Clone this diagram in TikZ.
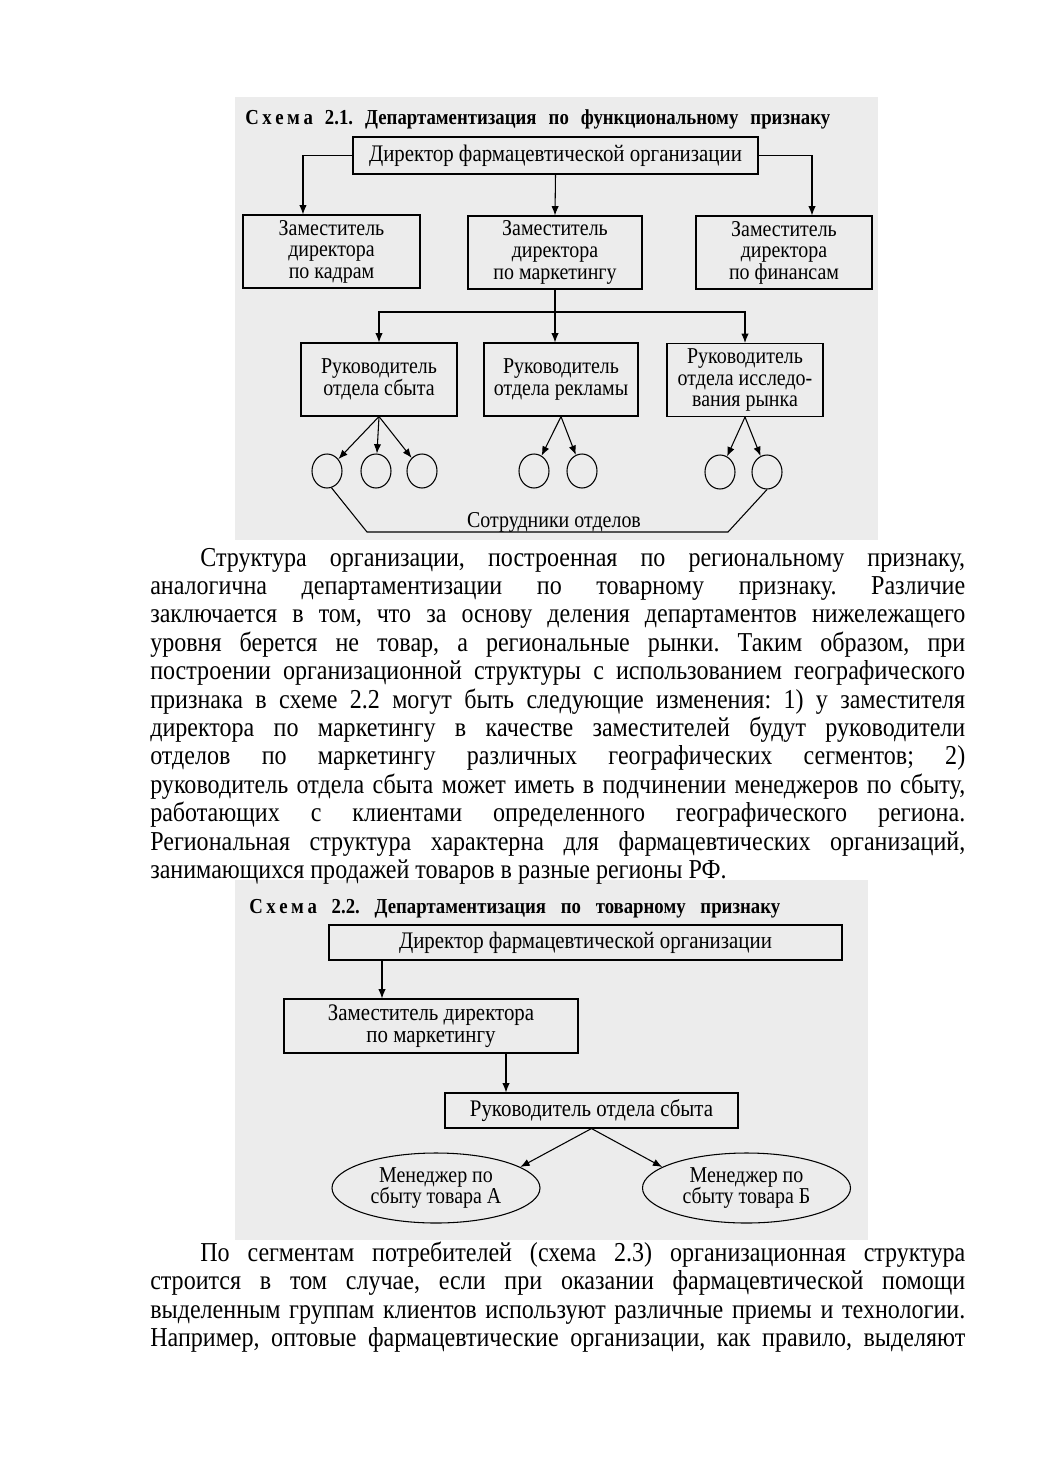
\documentclass[tikz,border=0pt]{standalone}
\usepackage{fontspec}
\setmainfont{Liberation Serif}
\newfontfamily\narrowserif[FakeStretch=0.88]{Liberation Serif}
\usetikzlibrary{shapes.geometric, arrows.meta, positioning, calc}

\definecolor{scangray}{RGB}{236,236,236}

\newcommand{\jline}[2]{\makebox[#1][s]{#2}}
\frenchspacing

\tikzset{
    box/.style={draw, line width=0.8pt, align=center, inner sep=0pt,
                font=\narrowserif\fontsize{17}{16.2}\selectfont},
    widebox/.style={box, font=\narrowserif\fontsize{17.8}{16.2}\selectfont},
    staff/.style={draw, ellipse, line width=0.8pt, inner sep=0pt,
                  minimum width=22.5pt, minimum height=25.5pt},
    mgr/.style={draw, ellipse, line width=0.8pt, align=center, inner sep=0pt,
                minimum width=156pt, minimum height=52.5pt,
                font=\narrowserif\fontsize{17}{16.2}\selectfont},
    arr/.style={-{Latex[length=7pt,width=5.5pt]}, line width=0.8pt},
    link/.style={line width=0.8pt},
    body/.style={anchor=base west, inner sep=0pt,
                 font=\narrowserif\fontsize{20.5}{21}\selectfont},
    caption/.style={anchor=base west, inner sep=0pt,
                    font=\narrowserif\bfseries\fontsize{16}{17}\selectfont}
}

\begin{document}
\begin{tikzpicture}[x=0.75pt, y=-0.75pt]
    \useasboundingbox (0,0) rectangle (1039,1471);
    \fill[white] (0,0) rectangle (1039,1471);
    % scanned areas
    \fill[scangray] (235,97) rectangle (878,540);
    \fill[scangray] (235,880) rectangle (868,1240);

    % SCHEME 2.1
    \node[caption] (cap1) at (245,124)
        {\jline{438.75pt}{С\,х\,е\,м\,а 2.1. Департаментизация по функциональному признаку}};
    \node[widebox, minimum width=303.75pt, minimum height=27.75pt] (dir1) at (555.5,155.5)
        {Директор фармацевтической организации};
    % deputies
    \node[box, minimum width=132.75pt, minimum height=54.75pt] (zamK) at (331.5,251.5)
        {Заместитель\\директора\\по кадрам};
    \node[box, minimum width=130.5pt, minimum height=54.75pt] (zamM) at (555,252.5)
        {Заместитель\\директора\\по маркетингу};
    \node[box, minimum width=132pt, minimum height=54.75pt] (zamF) at (784,252.5)
        {Заместитель\\директора\\по финансам};
    \coordinate (k1) at ([xshift=-21.4pt]zamK.north);
    \coordinate (f1) at ([xshift=21pt]zamF.north);
    \draw[arr] (dir1.west) -| (k1);
    \draw[arr] (dir1.east) -| (f1);
    \draw[arr] (dir1.south) -- (zamM.north);
    % heads of departments
    \node[box, minimum width=117pt, minimum height=54.75pt] (rukS) at (379,379.5)
        {Руководитель\\отдела сбыта};
    \node[box, minimum width=115.5pt, minimum height=54.75pt] (rukR) at (561,379.5)
        {Руководитель\\отдела рекламы};
    \node[box, minimum width=117pt, minimum height=54.75pt] (rukI) at (745,380)
        {Руководитель\\отдела исследо-\\вания рынка};
    \coordinate (bus) at (555,312);
    \draw[link] (zamM.south) -- (bus);
    \draw[arr] (bus) -| (rukS.north);
    \draw[arr] (bus) -| (rukI.north);
    \draw[arr] (bus) -- (bus |- rukR.north);
    % staff
    \node[staff] (s1) at (327,471) {};
    \node[staff] (s2) at (376,471) {};
    \node[staff] (s3) at (422,471) {};
    \node[staff] (r1) at (534,471) {};
    \node[staff] (r2) at (582,471) {};
    \node[staff] (i1) at (720,472) {};
    \node[staff] (i2) at (767,472) {};
    \foreach \c in {s1,s2,s3}
        \draw[arr] (rukS.south) -- (\c);
    \foreach \c in {r1,r2}
        \draw[arr] (rukR.south) -- (\c);
    \foreach \c in {i1,i2}
        \draw[arr] (rukI.south) -- (\c);
    \coordinate (bl) at (367,532);
    \coordinate (br) at (728,532);
    \draw[link] (s1.-75) -- (bl) -- (br) -- (i2.south);
    \node[box, draw=none, anchor=base] (staffl) at (554,527) {Сотрудники отделов};

    % TEXT
    \node[body] (p1l1) at (200,566)
        {\jline{573.75pt}{Структура организации, построенная по региональному признаку,}};
    \foreach \txt [count=\i from 2] in {
        {аналогична департаментизации по товарному признаку. Различие},
        {заключается в том, что за основу деления департаментов нижележащего},
        {уровня берется не товар, а региональные рынки. Таким образом, при},
        {построении организационной структуры с использованием географического},
        {признака в схеме 2.2 могут быть следующие изменения: 1) у заместителя},
        {директора по маркетингу в качестве заместителей будут руководители},
        {отделов по маркетингу различных географических сегментов; 2)},
        {руководитель отдела сбыта может иметь в подчинении менеджеров по сбыту,},
        {работающих с клиентами определенного географического региона.},
        {Региональная структура характерна для фармацевтических организаций,}}
        \node[body] (p1l\i) at (150,{566+28.4*(\i-1)}) {\jline{611.25pt}{\txt}};
    \node[body] (p1l12) at (150,878.4)
        {занимающихся продажей товаров в разные регионы РФ.};

    % SCHEME 2.2
    \node[caption] (cap2) at (249,913)
        {\jline{398.25pt}{С\,х\,е\,м\,а 2.2. Департаментизация по товарному признаку}};
    \node[widebox, minimum width=384.75pt, minimum height=26.25pt] (dir2) at (585.5,942.5)
        {Директор фармацевтической организации};
    \node[widebox, minimum width=220.5pt, minimum height=40.5pt] (zam2) at (431,1026)
        {Заместитель директора\\по маркетингу};
    \node[widebox, minimum width=219.75pt, minimum height=26.25pt] (ruk2) at (591.5,1110.5)
        {Руководитель отдела сбыта};
    \node[mgr] (m1) at (436,1188) {Менеджер по\\сбыту товара А};
    \node[mgr] (m2) at (746.5,1188) {Менеджер по\\сбыту товара Б};
    \coordinate (d2a) at ([xshift=-36.75pt]zam2.north);
    \coordinate (z2a) at ([xshift=56.25pt]zam2.south);
    \draw[arr] (dir2.south -| d2a) -- (d2a);
    \draw[arr] (z2a) -- (z2a |- ruk2.north);
    \draw[arr] (ruk2.south) -- (m1.14);
    \draw[arr] (ruk2.south) -- (m2.166);

    % TEXT
    \node[body] (p2l1) at (200,1261)
        {\jline{573.75pt}{По сегментам потребителей (схема 2.3) организационная структура}};
    \foreach \txt [count=\i from 2] in {
        {строится в том случае, если при оказании фармацевтической помощи},
        {выделенным группам клиентов используют различные приемы и технологии.},
        {Например, оптовые фармацевтические организации, как правило, выделяют}}
        \node[body] (p2l\i) at (150,{1261+28.6*(\i-1)}) {\jline{611.25pt}{\txt}};
\end{tikzpicture}
\end{document}
